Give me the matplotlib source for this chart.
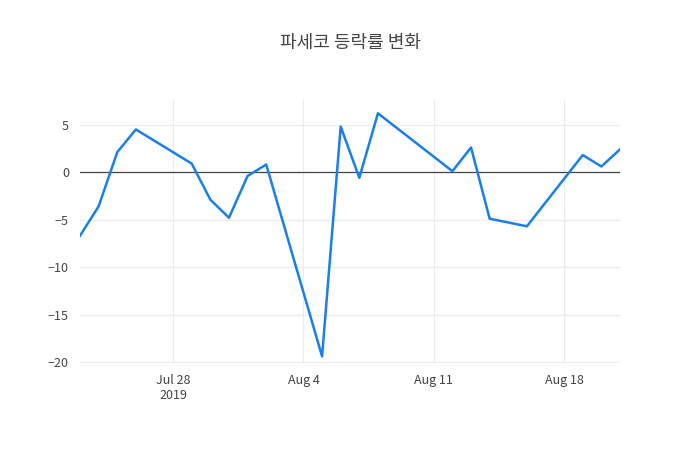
import matplotlib
matplotlib.use("Agg")
import matplotlib.pyplot as plt
import matplotlib.dates as mdates
import pandas as pd

plt.rcParams['font.family'] = ['Noto Sans CJK KR', 'DejaVu Sans']

dates = ["2019-07-23","2019-07-24","2019-07-25","2019-07-26","2019-07-29","2019-07-30",
         "2019-07-31","2019-08-01","2019-08-02","2019-08-05","2019-08-06","2019-08-07",
         "2019-08-08","2019-08-12","2019-08-13","2019-08-14","2019-08-16","2019-08-19",
         "2019-08-20","2019-08-21"]
values = [-6.7,-3.6,2.1,4.5,0.9,-2.9,-4.8,-0.4,0.8,-19.4,4.8,-0.6,6.2,0.1,2.6,-4.9,-5.7,1.8,0.6,2.4]
title = "파세코 등락률 변화"

x = pd.to_datetime(dates)
fig = plt.figure(figsize=(7, 4.5), dpi=100)
ax = fig.add_axes([80/700, 1-363/450, 540/700, 263/450])
ax.plot(x, values, color='#1a7fe6', lw=1.8, zorder=3)
ax.axhline(0, color='#444444', lw=0.9, zorder=2)
ax.set_xlim(x[0], x[-1])
ax.set_ylim(-20.1, 7.6)
ax.set_yticks([-20, -15, -10, -5, 0, 5])
ax.set_yticklabels(['−20', '−15', '−10', '−5', '0', '5'])
ticks = pd.to_datetime(["2019-07-28", "2019-08-04", "2019-08-11", "2019-08-18"])
ax.set_xticks(ticks)
ax.set_xticklabels(["Jul 28\n2019", "Aug 4", "Aug 11", "Aug 18"])
ax.grid(True, color='#ebebeb', lw=0.8)
for s in ax.spines.values():
    s.set_visible(False)
ax.tick_params(length=0, labelsize=9, colors='#444444', pad=8)
fig.text(350/700, 1-43/450, title, ha='center', va='center', fontsize=13, color='#444444')
fig.savefig("out.png", dpi=100)
